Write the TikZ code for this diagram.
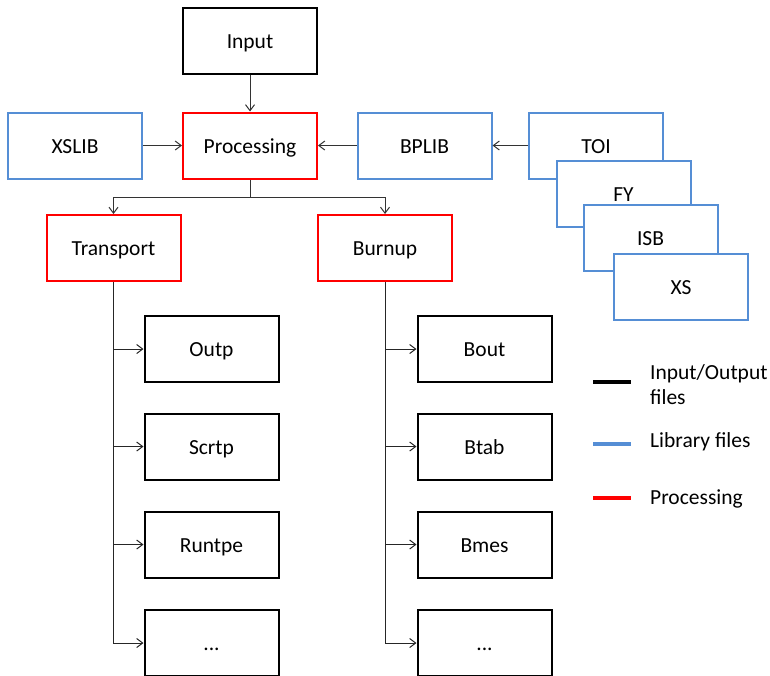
\documentclass[tikz,border=0pt]{standalone}
\usepackage{fontspec}
\setmainfont{Carlito}
\usetikzlibrary{arrows.meta}
\definecolor{libblue}{RGB}{85,142,213}
\definecolor{procred}{RGB}{255,0,0}
\begin{document}
\begin{tikzpicture}[x=1pt,y=-1pt,
  box/.style={draw,line width=2pt,minimum width=134pt,minimum height=66pt,inner sep=0pt,fill=white,text height=15.5pt,text depth=0pt,font=\fontsize{21.5}{25}\selectfont},
  iobox/.style={box,draw=black},
  libbox/.style={box,draw=libblue},
  procbox/.style={box,draw=procred},
  conn/.style={line width=1pt,draw=black!80,-{Straight Barb[length=6pt,width=9pt]}},
  plain/.style={line width=1pt,draw=black!80},
  trunk/.style={line width=1pt,draw=black!85,-{Straight Barb[length=6pt,width=9pt]}},
  legline/.style={line width=3.5pt},
  legtext/.style={anchor=west,inner sep=0pt,align=left,font=\fontsize{21.5}{25}\selectfont}]
\useasboundingbox (0,0) rectangle (770,675);
% top
\node[iobox] (input) at (250,40.5) {Input};
\node[procbox] (proc) at (250,145.5) {Processing};
\node[libbox] (xslib) at (75,145.5) {XSLIB};
\node[libbox] (bplib) at (424.5,145.5) {BPLIB};
\node[libbox] (toi) at (596,145.5) {TOI};
\node[libbox] (fy) at (623.5,193.5) {FY};
\node[libbox] (isb) at (650.5,238) {ISB};
\node[libbox] (xs) at (681,287) {XS};
% second row
\node[procbox] (transport) at (113.5,248) {Transport};
\node[procbox] (burnup) at (385,248) {Burnup};
% outputs
\node[iobox] (outp) at (211.5,349) {Outp};
\node[iobox] (scrtp) at (211.5,446.5) {Scrtp};
\node[iobox] (runtpe) at (211.5,544.5) {Runtpe};
\node[iobox] (tdots) at (211.5,643) {...};
\node[iobox] (bout) at (484.5,349) {Bout};
\node[iobox] (btab) at (484.5,446.5) {Btab};
\node[iobox] (bmes) at (484.5,544.5) {Bmes};
\node[iobox] (bdots) at (484.5,643) {...};
% connectors
\draw[conn] (input) -- (proc);
\draw[conn] (xslib) -- (proc);
\draw[conn] (bplib) -- (proc);
\draw[conn] (toi) -- (bplib);
\coordinate (br) at (250,197);
\draw[plain] (proc.south) -- (br);
\draw[conn] (br) -| (transport.north);
\draw[conn] (br) -| (burnup.north);
\foreach \t in {tdots,runtpe,scrtp,outp}{\draw[trunk] (transport.south) |- (\t.west);}
\foreach \t in {bdots,bmes,btab,bout}{\draw[trunk] (burnup.south) |- (\t.west);}
% legend
\coordinate (l1a) at (593,382); \coordinate (l1b) at (631,382);
\coordinate (l2a) at (593,444); \coordinate (l2b) at (631,444);
\coordinate (l3a) at (593,498); \coordinate (l3b) at (631,498);
\draw[legline,black] (l1a) -- (l1b);
\draw[legline,libblue] (l2a) -- (l2b);
\draw[legline,procred] (l3a) -- (l3b);
\node[legtext] (t1) at (650,384.5) {Input/Output\\files};
\node[legtext] (t2) at (650,442) {Library files};
\node[legtext] (t3) at (650,499) {Processing};
\end{tikzpicture}
\end{document}
